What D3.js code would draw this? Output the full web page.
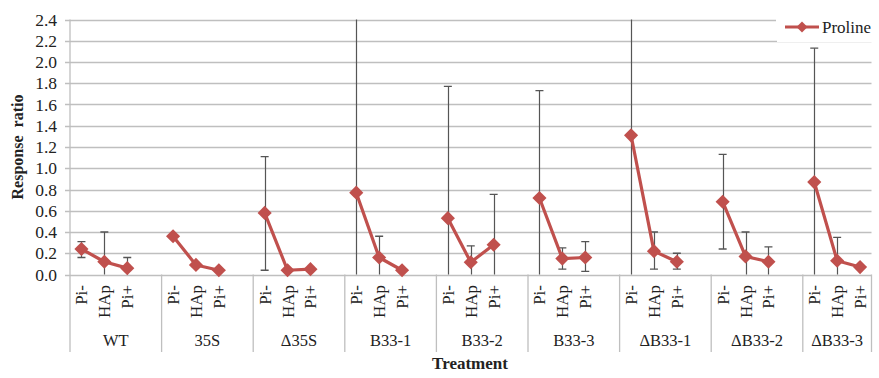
<!DOCTYPE html>
<html><head><meta charset="utf-8">
<script src="https://cdn.jsdelivr.net/npm/d3@7"></script>
<style>body{margin:0;background:#fff}svg{display:block}</style>
</head><body>
<svg id="c" width="879" height="378"></svg>
<script>
const groups = ["WT","35S","Δ35S","B33-1","B33-2","B33-3","ΔB33-1","ΔB33-2","ΔB33-3"];
const treatments = ["Pi-","HAp","Pi+"];
const proline = [0.24,0.12,0.06, 0.36,0.09,0.04, 0.58,0.04,0.05, 0.77,0.16,0.04, 0.53,0.115,0.28, 0.72,0.15,0.16, 1.31,0.22,0.12, 0.685,0.17,0.12, 0.87,0.13,0.07];
const errUpper = [0.31,0.40,0.16, null,null,null, 1.11,null,null, 2.9,0.36,null, 1.77,0.27,0.755, 1.73,0.25,0.31, 2.9,0.40,0.20, 1.13,0.40,0.26, 2.13,0.35,null];
const errLower = [0.16,-0.16,-0.04, null,null,null, 0.04,null,null, -0.8,-0.04,null, -0.7,-0.04,-0.2, -0.3,0.05,0.03, -0.5,0.05,0.05, 0.24,-0.06,-0.02, -0.4,-0.09,null];
const yTicks = [0,0.2,0.4,0.6,0.8,1.0,1.2,1.4,1.6,1.8,2.0,2.2,2.4];
const seriesName = "Proline";

const svg = d3.select("#c");
const L = 70, R = 871.5, T = 19.5, B = 274.5;
const red = "#c0504d", grid = "#bfbfbf", serif = "'Liberation Serif','Times New Roman',serif";

const slots = [];
groups.forEach((g, gi) => {
  treatments.forEach((t, ti) => slots.push(gi + "-" + ti));
  if (gi < groups.length - 1) slots.push(gi + "-blank");
});
const x = d3.scaleBand().domain(slots).range([L, R]).padding(0);
const y = d3.scaleLinear().domain([0, 2.4]).range([B, T]);

const data = [];
groups.forEach((g, gi) => treatments.forEach((t, ti) => {
  const i = gi * 3 + ti;
  data.push({g: gi, t, key: gi + "-" + ti, v: proline[i], up: errUpper[i], lo: errLower[i]});
}));
const cx = d => x(d.key) + x.bandwidth() / 2;

// gridlines
svg.append("g").selectAll("line").data(yTicks).join("line")
  .attr("x1", L - 5).attr("x2", d => d === 2.4 ? 776 : R)
  .attr("y1", d => Math.round(y(d)) + 0.5).attr("y2", d => Math.round(y(d)) + 0.5)
  .attr("stroke", grid).attr("stroke-width", 1.3);

svg.append("line").attr("x1", L).attr("x2", L).attr("y1", T).attr("y2", 352)
  .attr("stroke", grid).attr("stroke-width", 1.3);

svg.append("g").selectAll("text").data(yTicks).join("text")
  .attr("x", 57).attr("y", d => y(d)).attr("dy", "0.35em")
  .attr("text-anchor", "end").attr("font-family", serif).attr("font-size", 17.5)
  .attr("fill", "#222").text(d => d.toFixed(1));

const sepX = groups.map((g, gi) => x(gi + "-0"));
sepX.push(R);
svg.append("g").selectAll("line").data(sepX.slice(1)).join("line")
  .attr("x1", d => d).attr("x2", d => d).attr("y1", B).attr("y2", 352)
  .attr("stroke", grid).attr("stroke-width", 1.3);

svg.append("g").selectAll("text").data(data).join("text")
  .attr("transform", d => `translate(${cx(d)},285) rotate(-90)`)
  .attr("text-anchor", "end").attr("dy", "0.35em")
  .attr("font-family", serif).attr("font-size", 17).attr("fill", "#222")
  .text(d => d.t);

svg.append("g").selectAll("text").data(groups).join("text")
  .attr("x", (g, gi) => (sepX[gi] + sepX[gi + 1]) / 2).attr("y", 346)
  .attr("text-anchor", "middle").attr("font-family", serif).attr("font-size", 16.5)
  .attr("fill", "#222").text(d => d);

svg.append("text").attr("x", 470).attr("y", 369).attr("text-anchor", "middle")
  .attr("font-family", serif).attr("font-size", 17).attr("font-weight", "bold")
  .attr("fill", "#222").text("Treatment");
svg.append("text").attr("transform", "translate(23,147) rotate(-90)")
  .attr("text-anchor", "middle").attr("font-family", serif).attr("font-size", 16)
  .attr("font-weight", "bold").attr("fill", "#222").attr("xml:space", "preserve")
  .text("Response  ratio");

svg.append("clipPath").attr("id", "clip").append("rect")
  .attr("x", L).attr("y", T).attr("width", R - L).attr("height", B - T);

const eb = svg.append("g").attr("clip-path", "url(#clip)");
const withErr = data.filter(d => d.up !== null);
eb.selectAll("line.v").data(withErr).join("line").attr("class", "v")
  .attr("x1", d => Math.round(cx(d)) + 0.5).attr("x2", d => Math.round(cx(d)) + 0.5)
  .attr("y1", d => y(d.lo)).attr("y2", d => y(d.up))
  .attr("stroke", "#555").attr("stroke-width", 1.2);
eb.selectAll("line.cu").data(withErr).join("line").attr("class", "cu")
  .attr("x1", d => cx(d) - 4).attr("x2", d => cx(d) + 4)
  .attr("y1", d => y(d.up)).attr("y2", d => y(d.up))
  .attr("stroke", "#555").attr("stroke-width", 1.3);
eb.selectAll("line.cl").data(withErr).join("line").attr("class", "cl")
  .attr("x1", d => cx(d) - 4).attr("x2", d => cx(d) + 4)
  .attr("y1", d => y(d.lo)).attr("y2", d => y(d.lo))
  .attr("stroke", "#555").attr("stroke-width", 1.3);

const line = d3.line().x(cx).y(d => y(d.v));
svg.append("g").selectAll("path").data(d3.groups(data, d => d.g)).join("path")
  .attr("d", d => line(d[1])).attr("fill", "none")
  .attr("stroke", red).attr("stroke-width", 3.2).attr("stroke-linejoin", "round");

svg.append("g").selectAll("path").data(data).join("path")
  .attr("d", d3.symbol().type(d3.symbolSquare).size(100))
  .attr("transform", d => `translate(${cx(d)},${y(d.v)}) rotate(45)`)
  .attr("fill", red);

const lg = svg.append("g");
lg.append("rect").attr("x", 777).attr("y", 12).attr("width", 102).attr("height", 30).attr("fill", "#fff");
lg.append("line").attr("x1", 785).attr("x2", 819).attr("y1", 27).attr("y2", 27)
  .attr("stroke", red).attr("stroke-width", 3.2);
lg.append("path").attr("d", d3.symbol().type(d3.symbolSquare).size(60))
  .attr("transform", "translate(802,27) rotate(45)").attr("fill", red);
lg.append("text").attr("x", 822).attr("y", 32.5).attr("font-family", serif)
  .attr("font-size", 17).attr("fill", "#222").text(seriesName);
</script>
</body></html>
